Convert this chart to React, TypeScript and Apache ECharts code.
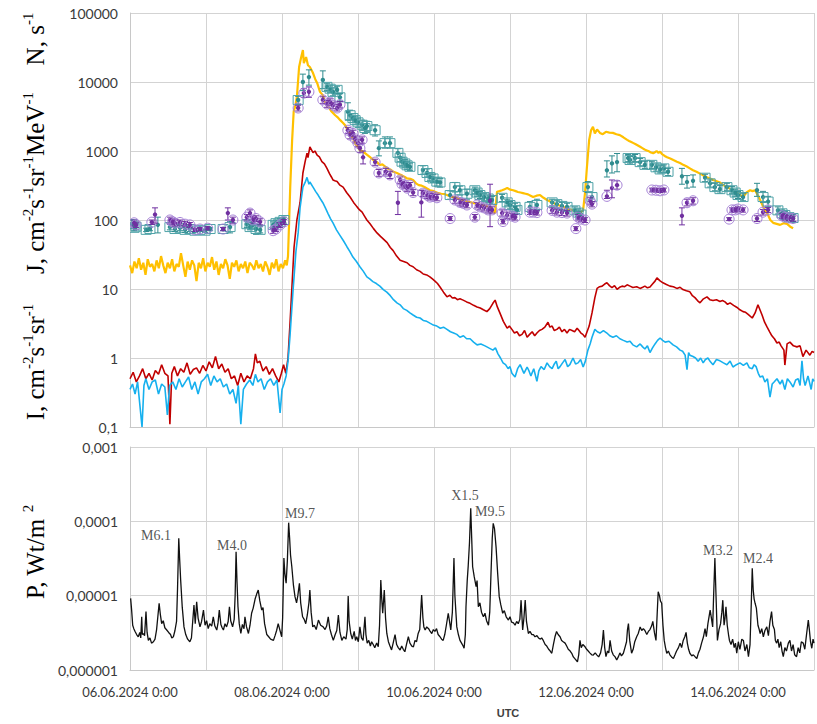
import React, { useEffect, useRef } from "react";
import * as echarts from "echarts";

// ---- time axis: hours since 06.06.2024 0:00 UTC ----
const X_MIN = 0;
const X_MAX = 216;
const X_STEP = 24;
const dateTicks = ["06.06.2024 0:00", "08.06.2024 0:00", "10.06.2024 0:00", "12.06.2024 0:00", "14.06.2024 0:00"];

// ---- N, s^-1 (yellow) [hour, value] ----
const countsN: [number, number][] = [
  [0, 22], [0.7, 17], [1.4, 25], [2.1, 20], [2.8, 28], [3.5, 19], [4.2, 24], [4.9, 16], [5.6, 27], [6.3, 21],
  [7, 23], [7.7, 18], [8.4, 26], [9.1, 20], [9.8, 30], [10.5, 22], [11.2, 17], [11.9, 24], [12.6, 20], [13.3, 27],
  [14, 18], [14.7, 23], [15.4, 21], [16.1, 33], [16.8, 22], [17.5, 15], [18.2, 25], [18.9, 19], [19.6, 26], [20.3, 22],
  [21, 13], [21.7, 24], [22.4, 20], [23.1, 28], [23.8, 18], [24.5, 24], [25.2, 21], [25.9, 29], [26.6, 19], [27.3, 25],
  [28, 16], [28.7, 23], [29.4, 20], [30.1, 27], [30.8, 22], [31.5, 14], [32.2, 24], [32.9, 21], [33.6, 26], [34.3, 18],
  [35, 23], [35.7, 20], [36.4, 25], [37.1, 17], [37.8, 24], [38.5, 22], [39.2, 19], [39.9, 26], [40.6, 20], [41.3, 23],
  [42, 18], [42.7, 25], [43.4, 21], [44.1, 16], [44.8, 24], [45.5, 20], [46.2, 27], [46.9, 18], [47.6, 23], [48.3, 20],
  [49, 26], [49.5, 22], [49.9, 30], [50.6, 300], [51.2, 1440], [51.7, 3800], [52.1, 4300], [52.7, 6070], [53.4, 16500],
  [54.0, 22300], [54.6, 29100], [54.9, 18800], [55.6, 23000], [56.2, 17500], [56.8, 16500], [57.8, 13500], [58.5, 11000],
  [59.1, 9700], [60.0, 7200], [60.8, 6500], [61.6, 5130], [62.2, 4700], [62.8, 4300], [63.5, 3800], [64.1, 3560],
  [64.8, 3300], [65.5, 3100], [66.4, 2800], [67.3, 2550], [68.0, 2350], [68.5, 2100], [69.3, 1850], [70.1, 1600],
  [70.6, 1450], [71.2, 1250], [71.9, 1150], [72.6, 1030], [73.3, 1000], [74.0, 950], [74.9, 880], [75.8, 818],
  [76.5, 760], [77.2, 720], [78.0, 690], [78.9, 627], [79.7, 640], [80.5, 600], [81.3, 560], [82.2, 540], [83.2, 500],
  [84.3, 480], [85.1, 460], [86.0, 440], [86.8, 420], [87.5, 400], [88.5, 395], [89.4, 380], [90.3, 340], [91.2, 320],
  [92.1, 315], [93.0, 300], [93.9, 285], [94.7, 270], [95.6, 265], [96.5, 255], [97.4, 245], [98.3, 240], [99.2, 238],
  [100.1, 230], [101.0, 220], [101.8, 215], [102.7, 212], [103.5, 205], [104.4, 200], [105.2, 195], [106.0, 190],
  [106.8, 185], [107.7, 180], [108.6, 175], [109.5, 172], [110.5, 166], [111.3, 163], [112.2, 160], [113.0, 158],
  [113.7, 155], [114.6, 140], [115.3, 126], [115.6, 180], [115.9, 257], [116.7, 262], [117.5, 270], [118.3, 280],
  [119.1, 290], [120.1, 275], [121.0, 270], [121.8, 262], [122.5, 255], [123.3, 250], [124.1, 245], [124.9, 240],
  [125.7, 235], [126.5, 225], [127.3, 215], [128.4, 225], [129.5, 230], [130.6, 210], [131.7, 195], [132.7, 185],
  [133.6, 178], [134.4, 170], [135.2, 165], [136.0, 160], [136.7, 155], [137.5, 150], [138.3, 145], [139.1, 142],
  [139.9, 138], [141.0, 132], [142.1, 126], [143.1, 140], [143.7, 250], [144.3, 590], [145.0, 1450], [145.6, 2000],
  [146.2, 2240], [146.8, 1800], [147.5, 2050], [148.4, 1830], [149.3, 1750], [150.3, 1900], [151.4, 1850],
  [152.5, 1830], [153.6, 1750], [154.7, 1700], [155.8, 1580], [157.0, 1450], [157.6, 1400], [158.3, 1350],
  [159.0, 1300], [159.7, 1250], [160.4, 1200], [161.1, 1150], [161.8, 1100], [162.5, 1050], [163.2, 1020],
  [163.9, 990], [164.5, 950], [165.2, 930], [165.8, 960], [166.3, 1000], [166.9, 940], [167.4, 980], [168.0, 900],
  [168.5, 870], [169.0, 840], [169.6, 810], [170.6, 780], [171.6, 740], [172.7, 700], [173.7, 670], [174.7, 630],
  [175.7, 600], [176.8, 560], [177.8, 525], [178.9, 500], [180.0, 470], [181.1, 440], [182.2, 415], [183.2, 400],
  [184.2, 380], [185.3, 365], [186.3, 350], [187.4, 320], [188.4, 300], [189.4, 285], [190.4, 270], [191.2, 255],
  [192.0, 240], [192.8, 228], [193.6, 215], [194.7, 250], [195.8, 270], [196.6, 262], [197.4, 270], [198.2, 230],
  [199.0, 195], [200.1, 150], [201.2, 126], [202.2, 100], [203.1, 91], [204.2, 88], [205.3, 85], [206.4, 90],
  [207.5, 88], [208.5, 80], [209.4, 76],
];

// ---- J, cm^-2 s^-1 sr^-1 MeV^-1 (red) ----
const fluxJ: [number, number][] = [
  [0, 0.5], [1, 0.62], [2, 0.45], [3, 0.55], [4, 0.7], [5, 0.5], [6, 0.6], [7, 0.48], [8, 0.66], [9, 0.58],
  [10, 0.8], [11, 0.6], [12, 0.55], [12.6, 0.11], [13.2, 0.6], [14, 0.75], [15, 0.55], [16, 0.7], [17, 0.62],
  [18, 0.85], [19, 0.58], [20, 0.68], [21, 0.72], [22, 0.6], [23, 0.78], [24, 0.65], [25, 0.88], [26, 0.72],
  [27, 1.05], [28, 0.7], [29, 0.82], [30, 0.62], [31, 0.7], [32, 0.5], [33, 0.55], [34, 0.4], [35, 0.6], [36, 0.45],
  [37, 0.55], [38, 0.5], [39, 0.7], [39.6, 1.15], [40.2, 0.85], [41, 0.9], [42, 0.65], [43, 0.75], [44, 0.58],
  [45, 0.7], [46, 0.55], [47, 0.45], [47.8, 0.6], [48.5, 0.8], [49.2, 0.6], [49.9, 1.0], [50.5, 3], [51.8, 40],
  [52.7, 100], [53.7, 178], [54.6, 480], [55.3, 700], [55.9, 930], [56.2, 800], [56.8, 1150], [57.8, 950],
  [58.4, 1000], [59.1, 870], [59.8, 820], [60.6, 700], [61.4, 650], [62.2, 560], [63.0, 470], [63.6, 420],
  [64.1, 380], [64.7, 370], [65.4, 360], [66.3, 320], [67.3, 300], [68.4, 250], [69.5, 215], [70.6, 180],
  [71.7, 155], [72.5, 140], [73.3, 130], [74.0, 115], [74.8, 100], [75.8, 88], [76.9, 75], [78.0, 65], [79.1, 58],
  [80.2, 52], [81.2, 47], [82.2, 40], [83.1, 36], [84.2, 30], [85.3, 26], [86.4, 25], [87.5, 24], [88.4, 22],
  [89.4, 21], [90.5, 19], [91.6, 18], [92.6, 16.5], [93.7, 16], [94.7, 15], [95.5, 14], [96.3, 13], [97.1, 12],
  [97.9, 10.7], [99.0, 9], [100.1, 7.7], [101.0, 8.1], [101.8, 7.4], [102.6, 7.5], [103.4, 7.0], [104.2, 7.2],
  [105.2, 6.9], [106.3, 6.5], [107.4, 6.2], [108.5, 5.8], [109.6, 5.5], [110.6, 5.3], [111.6, 5.0], [112.7, 4.7],
  [113.6, 5.2], [114.6, 6.2], [115.3, 6.9], [116.0, 5.5], [116.8, 4.5], [117.9, 3.4], [119.1, 2.7], [119.8, 2.9],
  [120.6, 2.6], [121.4, 2.3], [122.2, 2.4], [123.0, 2.1], [123.8, 2.2], [124.6, 2.5], [125.4, 2.0], [126.2, 2.2],
  [127.0, 2.4], [127.8, 2.1], [128.5, 2.3], [129.3, 2.5], [130.1, 2.6], [131.0, 2.8], [132.0, 3.3], [132.6, 2.8],
  [133.3, 2.9], [134.0, 2.5], [134.8, 2.6], [135.6, 2.8], [136.4, 2.4], [137.2, 2.6], [138.0, 2.3], [138.8, 2.6],
  [139.6, 2.5], [140.4, 2.4], [141.2, 2.7], [141.8, 2.5], [142.4, 2.3], [143.0, 2.2], [143.7, 2.0], [145.0, 2.9],
  [145.9, 4.5], [146.8, 7.5], [147.5, 10.2], [148.3, 10.8], [149.1, 11], [149.9, 11.8], [150.6, 12.3], [151.4, 11.2],
  [152.2, 10.5], [153.0, 11.2], [153.8, 9.9], [154.6, 10.6], [155.4, 11], [156.2, 10.8], [157.0, 11.5], [157.9, 11.0],
  [158.8, 10.5], [160.0, 10.8], [161.1, 10.2], [161.9, 10.6], [162.6, 11], [163.4, 10.4], [164.2, 10.7], [165.0, 11.8],
  [165.8, 13], [166.4, 14.5], [167.3, 13.2], [168.3, 12.3], [169.4, 11.6], [170.5, 11], [171.6, 10.8], [172.7, 10.2],
  [173.7, 10.6], [174.6, 9.8], [175.7, 9.4], [176.8, 9.1], [177.6, 8.0], [178.4, 7.5], [179.2, 6.8], [180.0, 6.3],
  [181.1, 7.2], [182.2, 7.7], [183.1, 7.0], [184.1, 6.8], [185.2, 7.0], [186.3, 6.6], [187.1, 6.8], [187.9, 6.5],
  [188.7, 6.0], [189.5, 6.3], [190.6, 5.8], [191.7, 5.4], [192.6, 5.0], [193.6, 4.7], [194.4, 4.6], [195.2, 4.3],
  [196.5, 3.8], [197.4, 4.5], [198.3, 5.9], [199.6, 4.2], [200.4, 3.3], [201.2, 2.8], [202.0, 2.4], [202.7, 2.1],
  [203.5, 1.9], [204.3, 1.65], [205.0, 1.7], [205.6, 1.5], [206.5, 1.3], [206.8, 0.79], [207.5, 1.6], [208.4, 1.7],
  [209.5, 1.5], [210.6, 1.45], [211.6, 1.5], [212.5, 1.05], [213.5, 1.3], [214.7, 1.1], [215.4, 1.25], [216.0, 1.2],
];

// ---- I, cm^-2 s^-1 sr^-1 (blue) ----
const fluxI: [number, number][] = [
  [0, 0.35], [0.8, 0.42], [1.6, 0.3], [2.4, 0.45], [3.8, 0.1], [4.4, 0.4], [5, 0.5], [6, 0.35], [7, 0.45], [8, 0.48],
  [9, 0.3], [10, 0.42], [11, 0.38], [11.8, 0.15], [12.5, 0.4], [13.5, 0.45], [14.5, 0.35], [15.5, 0.5], [16.5, 0.38],
  [17.5, 0.45], [18.5, 0.53], [19.5, 0.35], [20.5, 0.45], [21.5, 0.3], [22.5, 0.45], [23.5, 0.5], [24.5, 0.58],
  [25.5, 0.4], [26.5, 0.55], [27.5, 0.45], [28.5, 0.5], [29.5, 0.38], [30.5, 0.42], [31.5, 0.3], [32.5, 0.35],
  [33.5, 0.22], [34.2, 0.4], [35, 0.11], [35.8, 0.35], [36.8, 0.42], [37.8, 0.48], [38.8, 0.4], [39.6, 0.58],
  [40.4, 0.45], [41.4, 0.5], [42.4, 0.35], [43.4, 0.45], [44.4, 0.5], [45.4, 0.4], [46.4, 0.48], [47.4, 0.16],
  [48, 0.35], [48.6, 0.42], [49.3, 0.55], [49.9, 0.9], [50.5, 2], [51.5, 9.7], [52.4, 35], [53.1, 65], [53.7, 150],
  [54.6, 300], [55.3, 350], [55.9, 415], [56.5, 330], [56.8, 355], [57.8, 300], [58.6, 260], [59.4, 230], [60.2, 200],
  [60.9, 178], [61.7, 150], [62.5, 125], [63.3, 105], [64.1, 91], [65.2, 72], [66.3, 60], [67.4, 50], [68.5, 41],
  [69.4, 35], [70.4, 29], [71.5, 25], [72.6, 21], [73.7, 18], [74.8, 15], [75.7, 14], [76.7, 12.8], [77.8, 12],
  [78.9, 11], [80.0, 9.8], [81.1, 9], [82.2, 8], [83.2, 7], [84.3, 6.3], [85.3, 5.9], [86.3, 5.2], [87.4, 4.9],
  [88.4, 4.5], [89.4, 4.2], [90.5, 3.9], [91.6, 3.8], [92.6, 3.5], [93.7, 3.4], [94.7, 3.2], [95.8, 3.0], [96.9, 2.9],
  [98.0, 2.7], [99.0, 2.8], [100.1, 2.6], [101.2, 2.4], [102.2, 2.3], [103.2, 2.2], [104.2, 2.0], [105.3, 2.1],
  [106.3, 1.9], [107.4, 1.9], [108.5, 1.7], [109.6, 1.55], [110.8, 1.6], [112.1, 1.5], [113.3, 1.4], [114.6, 1.3],
  [115.4, 1.4], [116.2, 1.15], [117.0, 1.0], [117.8, 0.85], [118.6, 0.8], [119.4, 0.7], [120.0, 0.75], [120.6, 0.6],
  [121.6, 0.53], [122.4, 0.7], [123.2, 0.8], [124.4, 0.6], [125.4, 0.74], [126.0, 0.65], [126.6, 0.55], [127.5, 0.7],
  [128.5, 0.46], [129.1, 0.65], [129.8, 0.75], [130.8, 0.68], [131.7, 0.85], [132.5, 0.75], [133.3, 0.7], [134.0, 0.82],
  [134.6, 0.9], [135.2, 0.7], [135.8, 0.75], [136.6, 0.85], [137.4, 0.95], [138.2, 0.75], [138.9, 0.8], [139.9, 1.0],
  [140.7, 0.82], [141.5, 0.85], [142.3, 0.95], [143.1, 0.74], [143.8, 0.9], [144.6, 1.3], [145.3, 1.6], [145.9, 2.0],
  [146.8, 2.6], [147.6, 2.4], [148.4, 2.3], [149.5, 2.5], [150.6, 2.3], [151.5, 2.1], [152.5, 2.0], [153.6, 2.1],
  [154.7, 1.9], [155.8, 1.8], [157.0, 1.7], [157.9, 1.75], [158.8, 1.55], [160.0, 1.45], [161.1, 1.6], [161.9, 1.45],
  [162.6, 1.35], [163.4, 1.5], [164.2, 1.2], [165.0, 1.4], [165.8, 1.6], [166.6, 1.8], [167.4, 1.95], [168.2, 1.8],
  [169.0, 1.7], [170.2, 1.75], [171.5, 1.55], [172.6, 1.45], [173.7, 1.3], [174.5, 1.25], [175.3, 1.1], [175.9, 0.68],
  [176.4, 1.2], [176.8, 1.1], [177.8, 1.05], [178.6, 1.0], [179.4, 0.9], [180.2, 1.0], [181.0, 0.85], [181.7, 0.95],
  [182.5, 1.0], [183.3, 0.88], [184.1, 0.8], [185.2, 0.95], [186.3, 0.91], [187.4, 0.85], [188.5, 0.8], [189.5, 0.9],
  [190.4, 0.74], [191.5, 0.8], [192.6, 0.85], [193.7, 0.78], [194.8, 0.85], [195.6, 0.72], [196.5, 0.7], [197.1, 0.8],
  [197.7, 0.75], [198.4, 0.6], [199.0, 0.53], [199.8, 0.55], [200.5, 0.45], [201.3, 0.5], [202.1, 0.27], [202.8, 0.42],
  [203.4, 0.45], [204.3, 0.5], [205.3, 0.42], [206.0, 0.48], [206.8, 0.35], [207.6, 0.5], [208.4, 0.45], [209.4, 0.38],
  [210.2, 0.48], [211.0, 0.5], [211.6, 0.4], [212.2, 0.91], [212.7, 0.5], [213.2, 0.4], [214.1, 0.55], [215.1, 0.35],
  [215.6, 0.5], [216.0, 0.46],
];

// ---- N measurements with error bars: [hour, value, low, high] ----
const tealPoints: [number, number, number, number][] = [
  [0.6, 87, 75, 100], [1.3, 77, 70, 85], [1.9, 80, 72, 88], [5.1, 72, 68, 76], [6.3, 74, 70, 79], [8.8, 85, 65, 110],
  [12.6, 79, 72, 86], [14.2, 74, 68, 80], [15.8, 77, 70, 84], [17.4, 72, 66, 78], [18.9, 74, 68, 80],
  [20.5, 70, 66, 74], [22.1, 72, 68, 76], [23.7, 70, 66, 74], [25.3, 74, 70, 78], [29.4, 74, 70, 78], [31.6, 79, 65, 95],
  [36.9, 87, 78, 96], [37.9, 79, 72, 86], [38.8, 85, 76, 94], [39.8, 74, 62, 86], [41.1, 72, 65, 80],
  [45.2, 85, 76, 94], [46.1, 90, 80, 100], [47.4, 94, 84, 104], [48.6, 100, 90, 110],
  [53.1, 5480, 4800, 6200], [54.6, 10000, 7500, 13000], [56.5, 11800, 9000, 15000],
  [60.9, 10700, 8000, 14500], [62.2, 8500, 7500, 9600], [63.2, 8000, 7000, 9000], [64.1, 7200, 6300, 8200],
  [65.4, 7700, 6800, 8700], [66.3, 6000, 5300, 6800],
  [68.8, 3700, 2800, 5000], [69.5, 3300, 2800, 3900], [70.4, 3000, 2600, 3500], [71.1, 2800, 2400, 3200],
  [72.0, 2600, 2200, 3000], [73.3, 2400, 2000, 2800], [74.2, 2150, 1800, 2500], [74.8, 2300, 1900, 2700],
  [77.4, 2000, 1650, 2400], [78.6, 1100, 850, 1400], [80.5, 1300, 1100, 1600], [82.1, 1300, 1100, 1600],
  [84.6, 940, 820, 1080], [85.3, 800, 700, 920], [85.9, 700, 610, 800], [86.8, 660, 580, 750], [87.5, 620, 540, 700],
  [88.4, 590, 520, 670], [92.5, 530, 460, 610], [93.8, 480, 420, 550], [94.7, 420, 370, 480], [95.7, 400, 350, 460],
  [96.9, 360, 310, 410], [97.9, 350, 300, 400], [101.1, 230, 200, 265], [102.6, 300, 255, 350], [104.2, 270, 230, 310],
  [106.4, 240, 200, 280], [108.9, 270, 240, 300], [109.6, 250, 220, 280], [110.5, 230, 205, 260], [111.8, 215, 190, 240],
  [113.1, 205, 180, 230], [114.3, 195, 170, 220], [117.5, 210, 185, 235], [119.1, 180, 160, 200], [120.0, 165, 145, 185],
  [121.6, 155, 135, 175], [122.2, 140, 125, 160], [126.3, 155, 130, 185], [128.5, 165, 135, 200],
  [133.3, 180, 160, 200], [134.8, 170, 150, 190], [136.4, 160, 140, 180], [138.0, 155, 135, 175],
  [140.5, 138, 122, 155], [141.5, 128, 113, 145], [142.4, 120, 106, 135], [144.6, 300, 250, 360], [145.9, 215, 185, 250],
  [150.6, 525, 420, 720], [152.2, 660, 480, 850], [153.8, 690, 500, 920],
  [157.3, 790, 700, 890], [157.9, 740, 650, 830], [159.5, 790, 700, 890], [161.1, 690, 610, 780], [162.6, 630, 560, 710],
  [164.8, 630, 560, 710], [166.1, 580, 510, 650], [167.4, 540, 480, 610], [168.6, 560, 490, 630], [169.9, 500, 440, 560],
  [174.3, 430, 330, 560], [175.9, 355, 290, 440], [177.8, 370, 300, 450],
  [181.6, 410, 360, 460], [183.2, 340, 300, 380], [184.7, 300, 265, 340], [186.3, 280, 245, 315],
  [188.5, 300, 265, 340], [190.1, 270, 240, 305], [191.1, 250, 220, 280], [192.0, 230, 205, 260], [193.6, 215, 190, 240],
  [198.0, 270, 220, 340], [199.9, 215, 180, 260], [201.5, 185, 155, 220],
  [204.6, 138, 122, 155], [205.9, 125, 110, 140], [206.8, 118, 105, 132], [208.1, 110, 98, 124], [209.4, 107, 95, 120],
];

const purplePoints: [number, number, number, number][] = [
  [1.3, 91, 82, 100], [1.9, 85, 78, 93], [6.9, 93, 86, 100], [7.9, 120, 90, 150],
  [12.6, 100, 90, 110], [13.5, 94, 85, 104], [14.2, 90, 82, 100], [15.8, 92, 84, 100], [17.4, 87, 80, 95], [18.9, 85, 78, 92],
  [20.5, 72, 68, 76], [22.1, 74, 70, 78], [24.5, 76, 72, 80], [29.4, 74, 70, 78], [30.9, 126, 100, 150], [32.5, 100, 90, 110],
  [36.9, 110, 100, 120], [37.9, 126, 113, 140], [38.8, 100, 90, 110], [39.8, 105, 95, 115], [41.1, 94, 85, 104],
  [45.2, 70, 64, 76], [46.1, 74, 68, 80], [47.4, 85, 78, 92], [48.6, 94, 86, 102],
  [53.1, 4200, 3800, 4600], [54.9, 6900, 6000, 8000], [56.5, 7200, 6000, 8500],
  [60.9, 5500, 4900, 6100], [62.2, 4800, 4300, 5400], [63.2, 5100, 4600, 5700], [64.1, 4600, 4100, 5100],
  [65.4, 4200, 3800, 4700], [66.3, 4700, 4200, 5200],
  [68.8, 2000, 1800, 2200], [69.5, 1700, 1500, 1900], [70.4, 1800, 1600, 2000], [71.1, 1500, 1350, 1650],
  [72.0, 1300, 1150, 1450], [72.6, 1100, 950, 1250], [73.3, 1450, 1300, 1600], [73.6, 810, 650, 1000],
  [77.4, 690, 620, 760], [78.6, 480, 430, 540], [80.8, 500, 450, 560], [82.1, 450, 400, 500],
  [84.6, 178, 120, 260], [85.3, 380, 340, 420], [85.9, 330, 300, 360], [86.8, 320, 290, 350], [87.5, 290, 260, 320],
  [88.4, 320, 290, 350], [89.4, 250, 225, 275],
  [92.0, 180, 110, 270], [92.5, 245, 220, 270], [93.8, 230, 205, 255], [94.7, 215, 195, 240], [95.7, 220, 200, 245],
  [96.9, 210, 190, 235], [101.1, 105, 98, 112], [102.6, 195, 175, 215], [104.2, 180, 160, 200], [105.2, 175, 155, 195],
  [106.4, 165, 150, 180], [108.9, 110, 100, 120], [109.6, 165, 150, 180], [110.5, 155, 140, 170], [111.8, 150, 135, 165],
  [113.1, 140, 126, 155], [113.7, 190, 80, 330], [114.3, 140, 126, 155],
  [117.5, 126, 114, 140], [117.8, 95, 88, 102], [119.1, 118, 106, 130], [120.6, 114, 103, 125], [121.6, 110, 100, 120],
  [126.3, 130, 120, 140], [127.3, 130, 120, 140], [128.5, 128, 118, 138],
  [133.3, 138, 125, 150], [134.8, 130, 118, 143], [136.4, 128, 116, 140], [138.0, 126, 114, 138],
  [140.8, 75, 70, 80], [141.5, 110, 100, 120], [142.4, 103, 94, 112], [143.7, 100, 92, 108],
  [145.3, 190, 170, 210], [145.9, 170, 155, 185],
  [150.6, 220, 205, 270], [152.2, 290, 210, 380], [153.8, 320, 280, 370],
  [164.8, 272, 255, 290], [166.1, 270, 255, 290], [167.4, 265, 250, 285], [168.6, 272, 255, 290],
  [174.3, 115, 85, 150], [175.9, 178, 160, 200], [177.8, 190, 170, 210],
  [189.2, 103, 98, 108], [190.1, 140, 130, 150], [191.1, 140, 130, 150], [192.0, 144, 134, 155], [193.6, 140, 130, 150],
  [198.0, 105, 95, 115], [199.9, 130, 118, 142], [201.5, 140, 128, 152],
  [205.9, 115, 105, 125], [206.8, 110, 100, 120], [208.1, 107, 98, 116], [209.4, 105, 96, 114],
];

// ---- X-ray flux P, in units of 1e-6 W/m^2: [hour, value] ----
const xrayFluxMicro: [number, number][] = [
  [0.2, 9.2], [0.5, 6.5], [0.85, 4.0], [1.2, 3.6], [1.6, 3.3], [2.1, 3.0], [2.6, 2.8], [3.1, 3.2], [3.4, 2.7], [3.7, 5.2],
  [3.9, 3.0], [4.2, 3.1], [4.6, 2.9], [5.05, 6.1], [5.4, 3.2], [5.8, 2.5], [6.3, 2.7], [6.8, 2.3], [7.4, 2.4], [7.9, 2.6],
  [8.4, 3.5], [9.2, 7.9], [9.6, 5.5], [10.0, 4.2], [10.5, 4.6], [11.0, 3.7], [11.6, 3.45], [12.2, 3.2], [12.8, 3.0],
  [13.2, 2.7], [13.7, 2.8], [14.2, 3.4], [14.7, 4.5], [15.0, 12], [15.4, 59], [15.7, 30], [16.0, 16.2], [16.5, 7],
  [17.05, 3.8], [17.6, 3.0], [18.2, 2.6], [18.9, 2.4], [19.4, 2.7], [19.8, 4.5], [20.2, 7.5], [20.6, 4.2], [21.05, 8.3],
  [21.5, 5.0], [22.1, 3.8], [22.6, 4.5], [23.2, 6.4], [23.7, 4.0], [24.2, 4.6], [24.7, 3.6], [25.2, 4.2], [25.8, 3.9],
  [26.3, 5.2], [26.8, 3.9], [27.4, 3.45], [27.8, 4.3], [28.2, 6.4], [28.7, 4.1], [29.1, 3.7], [29.5, 3.45], [30.0, 4.2],
  [30.5, 3.8], [31.0, 4.5], [31.4, 7.1], [31.8, 4.6], [32.4, 3.8], [32.9, 4.8], [33.2, 10], [33.5, 39], [33.8, 15],
  [34.1, 7.1], [34.5, 4.2], [35.0, 3.1], [35.5, 4.1], [36.0, 3.6], [36.3, 5.2], [36.8, 3.8], [37.4, 3.1], [37.9, 4.0],
  [38.4, 5.8], [38.9, 6.8], [39.5, 9], [40.0, 10.5], [40.5, 11.9], [41.0, 8.5], [41.6, 6.4], [42.0, 6.9], [42.5, 4.2],
  [43.2, 3.0], [43.8, 2.8], [44.4, 2.6], [45.3, 2.5], [45.8, 2.9], [46.3, 3.4], [46.8, 4.2], [47.3, 3.5], [47.9, 2.8],
  [48.2, 5], [48.6, 32], [48.9, 20], [49.3, 14.7], [49.7, 30], [50.1, 96], [50.4, 60], [50.7, 35], [51.1, 24.5],
  [51.6, 14], [52.1, 9.7], [52.6, 8], [53.0, 10], [53.5, 14.7], [53.9, 8], [54.5, 5.2], [55.0, 4.8], [55.5, 4.2],
  [56.0, 5.5], [56.5, 8], [56.8, 11.9], [57.2, 6], [57.7, 3.8], [58.2, 4.0], [58.8, 3.5], [59.5, 4.7], [60.2, 4.0],
  [61.0, 3.8], [61.6, 3.5], [62.1, 3.9], [62.6, 5.2], [63.1, 3.6], [63.6, 3.0], [64.2, 2.5], [64.8, 3.0], [65.3, 3.4],
  [65.8, 5.5], [66.3, 3.2], [66.9, 2.5], [67.5, 2.8], [68.2, 2.6], [68.6, 3.5], [68.9, 9.9], [69.2, 4.5], [69.7, 3.1],
  [70.2, 2.6], [70.8, 3.3], [71.2, 2.5], [71.6, 2.8], [72.1, 2.4], [72.6, 3.8], [73.1, 2.7], [73.6, 2.5], [74.2, 5.2],
  [74.5, 3.0], [74.9, 2.3], [75.4, 2.5], [75.9, 2.1], [76.3, 2.4], [76.8, 2.2], [77.3, 2.0], [77.9, 2.3], [78.4, 2.05],
  [78.8, 4], [79.2, 16.2], [79.5, 9], [79.8, 5.8], [80.3, 11.9], [80.7, 5], [81.1, 3.1], [81.6, 2.4], [82.1, 2.1],
  [82.6, 1.86], [83.1, 2.3], [83.7, 3.0], [84.2, 2.2], [84.7, 2.0], [85.3, 1.86], [85.8, 2.1], [86.3, 1.9], [86.8, 1.76],
  [87.3, 2.2], [87.9, 2.8], [88.4, 2.3], [89.0, 2.1], [89.5, 2.05], [90.0, 2.5], [90.5, 2.4], [91.0, 3.1], [91.5, 3.5],
  [92.1, 10.2], [92.5, 5], [92.8, 3.8], [93.2, 3.45], [93.7, 3.8], [94.3, 3.6], [94.8, 3.3], [95.3, 3.1], [95.8, 3.5],
  [96.3, 3.3], [96.8, 3.6], [97.3, 3.0], [97.9, 2.8], [98.4, 2.6], [98.9, 2.5], [99.4, 3.0], [99.9, 4.0], [100.5, 5.8],
  [100.9, 4.5], [101.3, 3.45], [101.8, 6], [102.3, 32], [102.6, 10], [103.2, 3.8], [103.7, 3.0], [104.2, 2.5],
  [104.7, 2.3], [105.2, 2.1], [105.5, 1.96], [105.9, 3], [106.1, 7.1], [106.5, 16.2], [106.8, 25], [107.2, 51],
  [107.6, 150], [107.9, 60], [108.2, 24.5], [108.7, 18], [109.3, 13.2], [109.6, 16], [110.0, 7.1], [110.5, 8],
  [111.0, 6], [111.6, 5.2], [112.1, 5.8], [112.6, 4.6], [113.2, 4.0], [113.6, 6], [114.0, 20], [114.4, 60], [114.7, 94],
  [115.1, 80], [115.6, 45], [116.1, 20], [116.6, 9.7], [117.1, 7.5], [117.7, 5.8], [118.2, 6.3], [118.8, 5.2],
  [119.5, 4.7], [120.0, 5.2], [120.5, 4.4], [121.1, 4.3], [121.6, 4.0], [122.1, 4.5], [122.6, 4.2], [123.1, 4.8],
  [123.5, 8.7], [123.8, 5], [124.0, 3.45], [124.4, 5], [124.8, 8.7], [125.2, 4.5], [125.8, 3.1], [126.3, 3.3],
  [126.9, 3.0], [127.4, 3.0], [127.9, 2.8], [128.5, 2.9], [129.0, 2.7], [129.6, 2.6], [130.0, 2.7], [130.5, 2.5],
  [131.1, 2.2], [131.6, 2.1], [132.2, 1.9], [132.7, 1.8], [133.2, 1.68], [133.7, 2.2], [134.2, 2.8], [134.7, 3.3],
  [135.2, 3.0], [135.8, 2.8], [136.3, 2.5], [136.8, 2.4], [137.4, 2.3], [137.9, 2.1], [138.4, 1.9], [139.0, 1.8],
  [139.5, 1.68], [140.0, 1.5], [140.6, 1.4], [141.3, 1.29], [141.7, 1.6], [142.1, 2.5], [142.5, 2.0], [143.0, 2.2],
  [143.7, 2.05], [144.2, 1.9], [144.7, 1.8], [145.2, 1.7], [145.8, 1.6], [146.3, 1.59], [146.9, 1.7], [147.4, 1.6],
  [148.0, 1.5], [148.6, 1.7], [149.1, 2.2], [149.5, 3.45], [149.9, 2.0], [150.3, 1.51], [150.8, 1.8], [151.2, 1.7],
  [151.6, 2.5], [152.1, 1.8], [152.6, 1.6], [153.2, 1.5], [153.7, 1.36], [154.2, 1.5], [154.7, 1.7], [155.2, 1.55],
  [155.8, 1.68], [156.3, 2.0], [156.8, 2.4], [157.1, 3.5], [157.4, 4.2], [157.8, 2.5], [158.4, 1.68], [158.9, 1.9],
  [159.4, 2.4], [160.0, 2.8], [160.5, 3.1], [161.1, 3.8], [161.6, 3.4], [162.1, 3.6], [162.6, 3.4], [163.2, 3.0],
  [163.7, 3.3], [164.2, 3.5], [164.7, 3.9], [165.1, 4.5], [165.6, 3.2], [166.1, 2.5], [166.5, 6], [166.8, 11.3],
  [167.2, 10], [167.5, 8.5], [167.9, 7.9], [168.3, 4], [168.7, 2.5], [169.1, 2.0], [169.5, 1.68], [170.0, 1.8],
  [170.5, 1.6], [171.0, 1.5], [171.6, 1.43], [172.1, 1.6], [172.6, 1.8], [173.2, 2.0], [173.7, 2.3], [174.2, 2.0],
  [174.7, 2.5], [175.2, 2.8], [175.6, 3.2], [176.0, 2.3], [176.4, 1.9], [176.8, 1.68], [177.4, 1.55], [177.9, 1.6],
  [178.5, 1.5], [179.0, 1.43], [179.5, 1.7], [180.0, 1.9], [180.5, 2.3], [181.1, 2.8], [181.6, 3.6], [182.0, 2.8],
  [182.5, 4.2], [183.2, 6.4], [183.6, 5], [184.0, 3.8], [184.3, 10], [184.7, 32], [185.0, 12], [185.5, 2.5], [186.0, 3.5],
  [186.5, 4.2], [186.9, 6], [187.2, 8.7], [187.6, 4], [187.9, 5], [188.2, 7.1], [188.6, 4], [189.0, 3.0], [189.3, 2.5],
  [189.8, 2.2], [190.3, 2.6], [190.8, 2.0], [191.2, 2.3], [191.6, 1.68], [192.1, 2.4], [192.6, 1.9], [193.2, 2.6],
  [193.7, 2.5], [194.2, 1.8], [194.8, 2.2], [195.3, 1.51], [195.8, 2.2], [196.2, 8], [196.5, 23.4], [196.8, 12],
  [197.1, 9], [197.4, 7.9], [197.8, 6.8], [198.3, 4], [198.7, 3.5], [199.0, 3.1], [199.5, 3.6], [200.0, 2.8],
  [200.5, 3.4], [201.1, 3.8], [201.6, 2.9], [202.1, 4.5], [202.6, 6.1], [203.0, 4.0], [203.5, 3.5], [203.8, 2.5],
  [204.2, 2.3], [204.6, 2.6], [205.0, 2.0], [205.5, 2.4], [205.9, 1.8], [206.3, 1.51], [206.8, 2.0], [207.3, 1.8],
  [207.9, 2.3], [208.4, 2.5], [208.9, 1.8], [209.4, 2.2], [209.9, 1.6], [210.5, 1.51], [211.0, 2.0], [211.5, 1.7],
  [212.0, 2.4], [212.6, 2.3], [213.1, 1.9], [213.6, 2.9], [214.2, 4.7], [214.5, 3.6], [214.9, 2.4], [215.3, 1.96],
  [215.7, 2.6], [216.0, 2.3],
];

// ---- flare class annotations: name, hour, label anchor in W/m^2 ----
const flareNames = ["M6.1", "M4.0", "M9.7", "X1.5", "M9.5", "M3.2", "M2.4"];
const flareHours = [8.2, 32.2, 53.7, 105.8, 113.7, 185.7, 198.3];
const flareLabelFlux = [6.5e-5, 4.8e-5, 1.26e-4, 2.26e-4, 1.34e-4, 4.1e-5, 3.2e-5];

const AXIS_FONT = "Lato, 'Liberation Sans', Arial, sans-serif";
const SERIF = "'Liberation Serif', 'DejaVu Serif', 'Times New Roman', serif";

function logLabel(v: number): string {
  const e = Math.round(Math.log10(v));
  if (e >= 0) return String(Math.pow(10, e));
  return "0," + "0".repeat(-e - 1) + "1";
}

function errRender(color: string, outline: string, shape: "rect" | "circle") {
  return (params: any, api: any) => {
    const h = api.value(0);
    const v = api.value(1);
    const lo = api.value(2);
    const hi = api.value(3);
    const p = api.coord([h, v]);
    const pl = api.coord([h, lo]);
    const ph = api.coord([h, hi]);
    const st = { stroke: color, lineWidth: 1 };
    const children: any[] = [
      { type: "line", shape: { x1: p[0], y1: pl[1], x2: p[0], y2: ph[1] }, style: st },
      { type: "line", shape: { x1: p[0] - 3, y1: pl[1], x2: p[0] + 3, y2: pl[1] }, style: st },
      { type: "line", shape: { x1: p[0] - 3, y1: ph[1], x2: p[0] + 3, y2: ph[1] }, style: st },
      { type: "circle", shape: { cx: p[0], cy: p[1], r: 2.2 }, style: { fill: color } },
    ];
    if (hi / lo < 1.5) {
      if (shape === "rect") {
        children.push({ type: "rect", shape: { x: p[0] - 5, y: p[1] - 4.5, width: 10, height: 9 }, style: { fill: "none", stroke: outline, lineWidth: 1 } });
      } else {
        children.push({ type: "circle", shape: { cx: p[0], cy: p[1], r: 5 }, style: { fill: "none", stroke: outline, lineWidth: 1 } });
      }
    }
    return { type: "group", children };
  };
}

export default function App() {
  const ref = useRef<HTMLDivElement>(null);
  useEffect(() => {
    document.body.style.margin = "0";
    const chart = echarts.init(ref.current!, null, { renderer: "svg" });
    const gridColor = "#d3d3d3";
    const xBase = {
      type: "value",
      min: X_MIN,
      max: X_MAX,
      interval: X_STEP,
      axisTick: { show: false },
      axisLine: { show: true, lineStyle: { color: "#c8c8c8" } },
      splitLine: { show: true, lineStyle: { color: gridColor, width: 1 } },
    };
    const yBase = {
      type: "log",
      logBase: 10,
      interval: 1,
      axisTick: { show: false },
      axisLine: { show: true, lineStyle: { color: "#c8c8c8" } },
      splitLine: { show: true, lineStyle: { color: gridColor, width: 1 } },
      axisLabel: {
        formatter: logLabel,
        fontSize: 14,
        color: "#3a3a3a",
        fontFamily: AXIS_FONT,
        margin: 12,
        showMinLabel: true,
        showMaxLabel: true,
      },
    };
    const sup = { fontSize: 15, fontFamily: SERIF, color: "#222", verticalAlign: "top", lineHeight: 30 };
    const main = { fontSize: 25, fontFamily: SERIF, color: "#222", lineHeight: 30 };
    const option: any = {
      animation: false,
      backgroundColor: "#ffffff",
      grid: [
        { left: 130, top: 13, width: 684, height: 414 },
        { left: 130, top: 447, width: 684, height: 223 },
      ],
      xAxis: [
        { ...xBase, gridIndex: 0, axisLabel: { show: false } },
        {
          ...xBase,
          gridIndex: 1,
          axisLabel: {
            show: true,
            fontSize: 13,
            color: "#3a3a3a",
            fontFamily: AXIS_FONT,
            margin: 15,
            formatter: (v: number) => (v % 48 === 0 ? dateTicks[v / 48] || "" : ""),
          },
        },
      ],
      yAxis: [
        { ...yBase, gridIndex: 0, min: 0.1, max: 100000 },
        { ...yBase, gridIndex: 1, min: 1e-6, max: 1e-3 },
      ],
      graphic: [
        {
          type: "text", x: 35, y: 362, rotation: Math.PI / 2,
          style: { text: "{m|I, cm}{s|-2}{m|s}{s|-1}{m|sr}{s|-1}", rich: { m: main, s: sup }, align: "center", verticalAlign: "middle" },
        },
        {
          type: "text", x: 35, y: 183, rotation: Math.PI / 2,
          style: { text: "{m|J, cm}{s|-2}{m|s}{s|-1}{m|sr}{s|-1}{m|MeV}{s|-1}", rich: { m: main, s: sup }, align: "center", verticalAlign: "middle" },
        },
        {
          type: "text", x: 35, y: 39, rotation: Math.PI / 2,
          style: { text: "{m|N, s}{s|-1}", rich: { m: main, s: sup }, align: "center", verticalAlign: "middle" },
        },
        {
          type: "text", x: 35, y: 552, rotation: Math.PI / 2,
          style: { text: "{m|P, Wt/m }{s|2}", rich: { m: main, s: sup }, align: "center", verticalAlign: "middle" },
        },
        {
          type: "text", x: 508, y: 713,
          style: { text: "UTC", fontSize: 11, fontWeight: "bold", fill: "#404040", fontFamily: "'Liberation Sans', Arial, sans-serif", align: "center", verticalAlign: "middle" },
        },
      ],
      series: [
        {
          name: "N", type: "line", xAxisIndex: 0, yAxisIndex: 0, data: countsN, showSymbol: false, symbol: "none",
          lineStyle: { color: "#FFC000", width: 2.2 }, z: 2,
        },
        {
          name: "J", type: "line", xAxisIndex: 0, yAxisIndex: 0, data: fluxJ, showSymbol: false, symbol: "none",
          lineStyle: { color: "#C00000", width: 1.6 }, z: 3,
        },
        {
          name: "I", type: "line", xAxisIndex: 0, yAxisIndex: 0, data: fluxI, showSymbol: false, symbol: "none",
          lineStyle: { color: "#16B0EE", width: 1.6 }, z: 4,
        },
        {
          name: "N teal", type: "custom", xAxisIndex: 0, yAxisIndex: 0, data: tealPoints,
          encode: { x: 0, y: 1 }, renderItem: errRender("#2F8C8F", "#4FA3A8", "rect"), z: 5, clip: true,
        },
        {
          name: "N purple", type: "custom", xAxisIndex: 0, yAxisIndex: 0, data: purplePoints,
          encode: { x: 0, y: 1 }, renderItem: errRender("#7030A0", "#A47FD6", "circle"), z: 6, clip: true,
        },
        {
          name: "P", type: "line", xAxisIndex: 1, yAxisIndex: 1,
          data: xrayFluxMicro.map(([h, u]) => [h, u * 1e-6]),
          showSymbol: false, symbol: "none", lineStyle: { color: "#111", width: 1.3 },
        },
        {
          name: "flares", type: "scatter", xAxisIndex: 1, yAxisIndex: 1, symbolSize: 0,
          data: flareNames.map((n, i) => ({ name: n, value: [flareHours[i], flareLabelFlux[i]] })),
          label: {
            show: true, position: "inside", formatter: "{b}", fontSize: 14, color: "#2a2a2a", fontFamily: SERIF,
          },
          z: 10,
        },
      ],
    };
    chart.setOption(option);
    return () => chart.dispose();
  }, []);
  return <div ref={ref} style={{ position: "absolute", left: 0, top: 0, width: 817, height: 724 }} />;
}
